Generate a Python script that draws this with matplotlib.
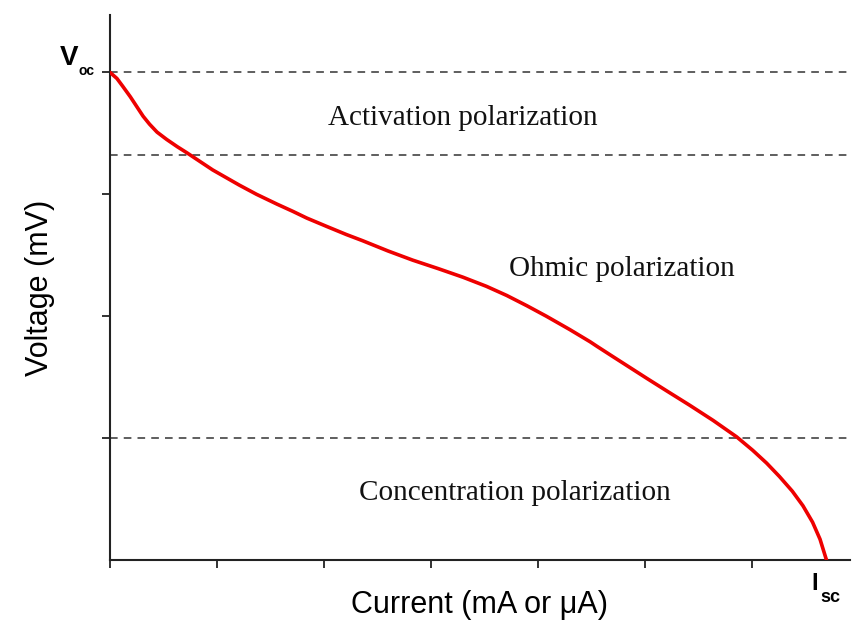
import matplotlib.pyplot as plt

# polarization curve (arbitrary units)
current = [0.0, 0.065, 0.12, 0.19, 0.25, 0.31, 0.37, 0.44, 0.53, 0.63, 0.72, 0.84,
           0.96, 1.09, 1.21, 1.37, 1.56, 1.71, 1.84, 2.03, 2.21, 2.36, 2.60, 2.83,
           3.07, 3.30, 3.52, 3.71, 3.90, 4.08, 4.30, 4.49, 4.55, 4.70, 4.86, 5.02,
           5.21, 5.42, 5.64, 5.86, 6.01, 6.14, 6.26, 6.38, 6.48, 6.57, 6.64, 6.70]
voltage = [4.00, 3.95, 3.885, 3.80, 3.72, 3.64, 3.575, 3.51, 3.45, 3.39, 3.34, 3.27,
           3.20, 3.135, 3.075, 3.00, 2.92, 2.86, 2.805, 2.735, 2.67, 2.62, 2.535, 2.46,
           2.39, 2.32, 2.245, 2.17, 2.085, 2.00, 1.89, 1.79, 1.755, 1.67, 1.58, 1.49,
           1.385, 1.27, 1.145, 1.01, 0.90, 0.795, 0.685, 0.565, 0.445, 0.31, 0.17, 0.0]

region_bounds = [4.0, 3.32, 1.0]
region_names = ["Activation polarization", "Ohmic polarization", "Concentration polarization"]
region_pos = [(3.30, 3.63), (4.79, 2.39), (3.79, 0.55)]

x_ticks = [0, 1, 2, 3, 4, 5, 6]
y_ticks = [1, 2, 3, 4]

fig = plt.figure(figsize=(8.54, 6.27), dpi=100)
ax = fig.add_axes([0.1288, 0.1069, 0.8665, 0.869])

for yb in region_bounds:
    ax.axhline(yb, color="#333333", lw=1.1, ls=(0, (5, 4)), zorder=1)

ax.plot(current, voltage, color="#ee0000", lw=2.6, zorder=3,
        solid_joinstyle="round", solid_capstyle="round")

for name, (tx, ty) in zip(region_names, region_pos):
    ax.text(tx, ty, name, family="Liberation Serif", fontsize=21,
            ha="center", va="center", color="#111111")

ax.set_xlim(0, 6.92)
ax.set_ylim(0, 4.47)
ax.set_xticks(x_ticks)
ax.set_yticks(y_ticks)
ax.set_xticklabels([])
ax.set_yticklabels([])
ax.tick_params(direction="out", length=6, width=1.3, color="#222222")

for s in ["top", "right"]:
    ax.spines[s].set_visible(False)
for s in ["left", "bottom"]:
    ax.spines[s].set_linewidth(1.5)
    ax.spines[s].set_color("#222222")

ax.set_ylabel("Voltage (mV)", family="Liberation Sans", fontsize=22, labelpad=30)
ax.set_xlabel("Current (mA or μA)", family="Liberation Sans", fontsize=22, labelpad=12)

# V_oc and I_sc markers
ax.text(-0.30, 4.057, "V", family="Liberation Sans", fontweight="bold", fontsize=20,
        ha="right", va="baseline")
ax.text(-0.295, 3.98, "oc", family="Liberation Sans", fontweight="bold", fontsize=10,
        ha="left", va="baseline")
ax.text(6.59, -0.246, "I", family="Liberation Sans", fontweight="bold", fontsize=17,
        ha="center", va="baseline")
ax.text(6.64, -0.344, "sc", family="Liberation Sans", fontweight="bold", fontsize=13,
        ha="left", va="baseline")

fig.savefig("out.png", dpi=100)
